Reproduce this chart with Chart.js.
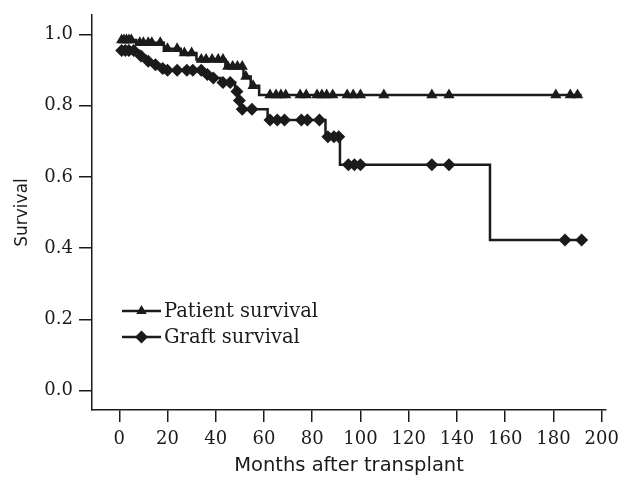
<!DOCTYPE html>
<html>
<head>
<meta charset="utf-8">
<script src="https://cdn.jsdelivr.net/npm/chart.js@4.4.1/dist/chart.umd.min.js"></script>
<style>
  html, body { margin: 0; padding: 0; background: #fff; }
</style>
</head>
<body>
<canvas id="kmChart" width="619" height="478"></canvas>
<script>
// Kaplan-Meier: patient vs graft survival after transplant

const xTicks = [0, 20, 40, 60, 80, 100, 120, 140, 160, 180, 200];
const yTicks = [0, 0.2, 0.4, 0.6, 0.8, 1.0];

// step changes (months, survival from that month on)
const patientStepTimes = [0, 7, 18.5, 25.5, 32, 44, 51.5, 54.5, 58];
const patientStepSurv  = [0.985, 0.977, 0.96, 0.948, 0.93, 0.91, 0.882, 0.856, 0.83];
const patientCensor = [1, 2, 3, 4, 5, 8.5, 10, 12, 13.5, 17, 20, 24, 27, 30, 34, 36, 38.5, 41, 43,
  45, 47, 49, 51, 52.5, 55.5, 62.5, 65, 67, 69, 75, 77.5, 82, 84, 86, 88.5, 94.5, 97, 100,
  109.7, 129.6, 136.7, 181, 187, 190];
const patientEnd = 191.7;

const graftStepTimes = [0, 8, 11, 14, 17, 19, 35.5, 38, 42, 48, 49.5, 50.5, 61.5, 85.5, 91.5, 153.7];
const graftStepSurv  = [0.955, 0.94, 0.925, 0.915, 0.905, 0.9, 0.888, 0.878, 0.865, 0.84, 0.815,
  0.79, 0.76, 0.713, 0.634, 0.423];
const graftCensor = [1, 2.5, 4, 6, 9, 12, 15, 18, 20, 24, 28, 30.5, 34, 36.5, 39, 43, 46, 48.8,
  49.8, 51, 55, 62.5, 65.5, 68.5, 75.5, 78, 83, 86.5, 89, 91, 95, 97.5, 100, 129.6, 136.7, 184.8, 191.7];
const graftEnd = 191.7;

const INK = '#1b1b1b';

function survAt(times, surv, t) {
  let v = surv[0];
  for (let i = 0; i < times.length; i++) if (times[i] <= t) v = surv[i];
  return v;
}

function buildCurve(times, surv, censor, end) {
  const pts = times.map((t, i) => ({ x: t, y: surv[i], mark: false }));
  censor.forEach(t => pts.push({ x: t, y: survAt(times, surv, t), mark: true }));
  if (!censor.includes(end)) pts.push({ x: end, y: survAt(times, surv, end), mark: false });
  pts.sort((a, b) => a.x - b.x);
  return pts;
}

const patientData = buildCurve(patientStepTimes, patientStepSurv, patientCensor, patientEnd);
const graftData = buildCurve(graftStepTimes, graftStepSurv, graftCensor, graftEnd);

function drawMarker(ctx, style, x, y, r) {
  ctx.beginPath();
  if (style === 'triangle') {
    ctx.moveTo(x, y - r);
    ctx.lineTo(x + r * 0.87, y + r * 0.5);
    ctx.lineTo(x - r * 0.87, y + r * 0.5);
  } else {
    ctx.moveTo(x, y - r);
    ctx.lineTo(x + r, y);
    ctx.lineTo(x, y + r);
    ctx.lineTo(x - r, y);
  }
  ctx.closePath();
  ctx.fill();
}

// legend drawn inside the plot, bottom left
const kmLegend = {
  id: 'kmLegend',
  afterDraw(chart) {
    const ctx = chart.ctx;
    const items = [
      { label: 'Patient survival', style: 'triangle', y: 311 },
      { label: 'Graft survival', style: 'diamond', y: 337 }
    ];
    ctx.save();
    ctx.strokeStyle = INK;
    ctx.fillStyle = INK;
    ctx.lineWidth = 2.5;
    ctx.font = '19.5px "DejaVu Serif"';
    ctx.textBaseline = 'middle';
    items.forEach(it => {
      ctx.beginPath();
      ctx.moveTo(122, it.y);
      ctx.lineTo(161, it.y);
      ctx.stroke();
      drawMarker(ctx, it.style, 141.5, it.y, it.style === 'triangle' ? 6 : 6.5);
      ctx.fillText(it.label, 164, it.y + 1);
    });
    ctx.restore();
  }
};

new Chart(document.getElementById('kmChart'), {
  type: 'line',
  data: {
    datasets: [
      {
        label: 'Patient survival',
        data: patientData,
        stepped: true,
        borderColor: INK,
        backgroundColor: INK,
        borderWidth: 2.5,
        pointStyle: 'triangle',
        pointRadius: c => (c.raw && c.raw.mark ? 6.5 : 0),
        pointBorderWidth: 0,
        fill: false
      },
      {
        label: 'Graft survival',
        data: graftData,
        stepped: true,
        borderColor: INK,
        backgroundColor: INK,
        borderWidth: 2.5,
        pointStyle: 'rectRot',
        pointRadius: c => (c.raw && c.raw.mark ? 6.5 : 0),
        pointBorderWidth: 0,
        fill: false
      }
    ]
  },
  options: {
    responsive: false,
    animation: false,
    clip: false,
    layout: { padding: { top: 15, right: 13, left: 0, bottom: 0 } },
    plugins: { legend: { display: false }, tooltip: { enabled: false } },
    scales: {
      x: {
        type: 'linear',
        min: -11.3,
        max: 201.8,
        afterBuildTicks: s => { s.ticks = xTicks.map(v => ({ value: v })); },
        afterFit: s => { s.height = 68; s.paddingRight = 0; s.paddingLeft = 0; },
        border: { display: true, color: INK, width: 1.5 },
        grid: { display: true, drawOnChartArea: false, drawTicks: true, tickLength: 12, color: INK, lineWidth: 1.5 },
        ticks: { color: INK, padding: 7, maxRotation: 0, font: { family: 'DejaVu Serif', size: 18 } },
        title: { display: true, text: 'Months after transplant', color: INK, padding: { top: 1, bottom: 0 },
          font: { family: 'DejaVu Sans', size: 19.5 } }
      },
      y: {
        type: 'linear',
        min: -0.055,
        max: 1.055,
        afterBuildTicks: s => { s.ticks = yTicks.map(v => ({ value: v })); },
        afterFit: s => { s.width = 92; s.paddingTop = 0; s.paddingBottom = 0; },
        border: { display: true, color: INK, width: 1.5 },
        grid: { display: true, drawOnChartArea: false, drawTicks: true, tickLength: 13, color: INK, lineWidth: 1.5 },
        ticks: { color: INK, padding: 6, callback: v => v.toFixed(1), font: { family: 'DejaVu Serif', size: 18 } },
        title: { display: true, text: 'Survival', color: INK, padding: { top: 12, bottom: 4 },
          font: { family: 'DejaVu Sans', size: 17 } }
      }
    }
  },
  plugins: [kmLegend]
});
</script>
</body>
</html>
